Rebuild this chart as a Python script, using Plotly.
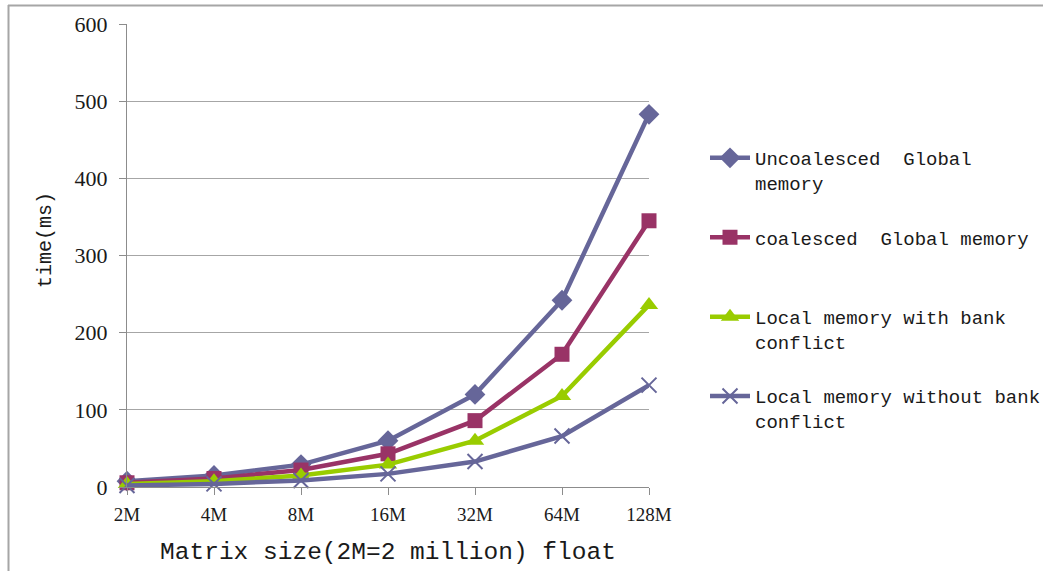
import plotly.graph_objects as go

categories = ["2M", "4M", "8M", "16M", "32M", "64M", "128M"]
uncoalesced_global = [7.5, 15, 29, 60, 120, 242, 483]
coalesced_global = [5.5, 11, 22, 43, 86, 172, 345]
local_bank_conflict = [4, 7.5, 15, 29, 60, 118, 236]
local_no_conflict = [2, 4, 8.5, 17, 33, 66, 132]

names = [
    "Uncoalesced  Global<br>memory",
    "coalesced  Global memory<br> ",
    "Local memory with bank<br>conflict",
    "Local memory without bank<br>conflict",
]
series = [uncoalesced_global, coalesced_global, local_bank_conflict, local_no_conflict]
colors = ["#666699", "#993366", "#99CC00", "#666699"]
symbols = ["diamond", "square", "triangle-up", "x-thin"]
sizes = [16, 15, 16, 15]

fig = go.Figure()
for i, (nm, ys) in enumerate(zip(names, series)):
    marker = dict(symbol=symbols[i], size=sizes[i], color=colors[i])
    if symbols[i] == "x-thin":
        marker["line"] = dict(color=colors[i], width=2)
    fig.add_trace(go.Scatter(
        x=categories, y=ys, name=nm, mode="lines+markers",
        line=dict(color=colors[i], width=4.5),
        marker=marker, legendgroup=str(i), cliponaxis=False,
    ))

W, H = 1044, 571
L, R, T, B = 127, 649, 24, 487

def px_x(p):
    return (p - L) / (R - L)

def px_y(p):
    return (B - p) / (B - T)

fig.update_layout(
    width=W, height=H,
    margin=dict(l=L, r=W - R, t=T, b=H - B, autoexpand=False),
    paper_bgcolor="white", plot_bgcolor="white",
    font=dict(family="Liberation Serif", color="#1a1a1a"),
    legend=dict(
        x=px_x(705), y=px_y(139), xanchor="left", yanchor="top",
        font=dict(family="Liberation Mono", size=19, color="#1a1a1a"),
        tracegroupgap=27, valign="top", bgcolor="rgba(0,0,0,0)",
        itemwidth=40,
    ),
    xaxis=dict(
        type="category", range=[0, len(categories) - 1],
        showgrid=False, showline=True, linecolor="#8C8C8C", linewidth=1,
        ticks="outside", ticklen=7, tickcolor="#8C8C8C", ticklabelstandoff=3,
        tickfont=dict(family="Liberation Serif", size=19, color="#1a1a1a"),
        title=dict(text="Matrix size(2M=2 million) float",
                   font=dict(family="Liberation Mono", size=24.5, color="#1a1a1a"),
                   standoff=18),
    ),
    yaxis=dict(
        range=[0, 600], dtick=100, showgrid=True, gridcolor="#A6A6A6", gridwidth=1,
        showline=True, linecolor="#8C8C8C", linewidth=1, zeroline=False,
        ticks="outside", ticklen=7, tickcolor="#8C8C8C", ticklabelstandoff=7,
        tickfont=dict(family="Liberation Serif", size=22, color="#1a1a1a"),
    ),
    annotations=[
        dict(text="time(ms)", textangle=-90, xref="paper", yref="paper",
             x=px_x(45), y=px_y(240), xanchor="center", yanchor="middle",
             showarrow=False,
             font=dict(family="Liberation Mono", size=20, color="#1a1a1a")),
    ],
    shapes=[
        dict(type="line", xref="paper", yref="paper",
             x0=px_x(8), x1=px_x(1043), y0=px_y(5.5), y1=px_y(5.5),
             line=dict(color="#A6A6A6", width=2)),
        dict(type="line", xref="paper", yref="paper",
             x0=px_x(8.5), x1=px_x(8.5), y0=px_y(5), y1=px_y(575),
             line=dict(color="#A6A6A6", width=2)),
    ],
)

fig.write_html("out.html", config={"displayModeBar": False},
               post_script="document.body.style.margin='0';")
